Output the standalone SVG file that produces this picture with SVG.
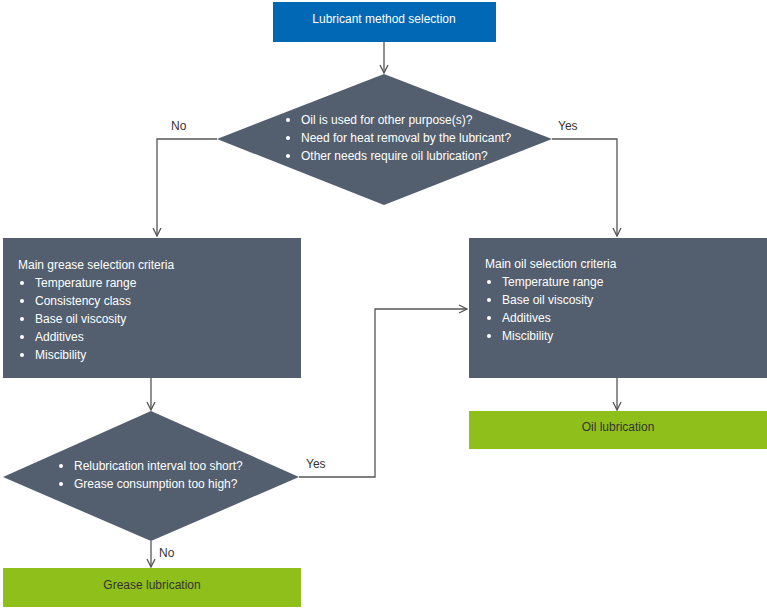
<svg xmlns="http://www.w3.org/2000/svg" width="767" height="608" viewBox="0 0 767 608">
<style>
.n{fill:#535f6e}
.g{fill:#8fbf1a}
.t{font-family:"Liberation Sans",Arial,sans-serif;font-size:12px;fill:#fff}
.d{font-family:"Liberation Sans",Arial,sans-serif;font-size:12px;fill:#333}
.c{fill:none;stroke:#555;stroke-width:1.3}
</style>
<defs><marker id="a" markerWidth="10" markerHeight="10" refX="9" refY="5" orient="auto" markerUnits="userSpaceOnUse"><path d="M1,1 L9,5 L1,9" fill="none" stroke="#555" stroke-width="1.3"/></marker></defs>
<g id="connectors">
<path class="c" d="M384,42 V73" marker-end="url(#a)"/>
<path class="c" d="M217,139 H157 V236" marker-end="url(#a)"/>
<path class="c" d="M552,139 H617 V236" marker-end="url(#a)"/>
<path class="c" d="M151,378 V410" marker-end="url(#a)"/>
<path class="c" d="M299,477 H375 V309 H467" marker-end="url(#a)"/>
<path class="c" d="M151,541 V567" marker-end="url(#a)"/>
<path class="c" d="M617,378 V410" marker-end="url(#a)"/>
<text class="d" x="171" y="130">No</text>
<text class="d" x="558" y="130">Yes</text>
<text class="d" x="306" y="468">Yes</text>
<text class="d" x="159" y="557">No</text>
</g>
<g id="start"><rect x="273" y="2" width="223" height="40" fill="#0068b4"/><text class="t" x="384" y="23" text-anchor="middle">Lubricant method selection</text></g>
<g id="decision1"><polygon class="n" points="384,74 552,139 384,205 217,139"/>
<text class="t" x="301" y="124">Oil is used for other purpose(s)?</text>
<text class="t" x="301" y="142">Need for heat removal by the lubricant?</text>
<text class="t" x="301" y="160">Other needs require oil lubrication?</text>
<circle cx="288" cy="120" r="2" fill="#fff"/><circle cx="288" cy="138" r="2" fill="#fff"/><circle cx="288" cy="156" r="2" fill="#fff"/></g>
<g id="grease-criteria"><rect class="n" x="3" y="238" width="298" height="140"/>
<text class="t" x="18" y="269">Main grease selection criteria</text>
<text class="t" x="35" y="287">Temperature range</text><text class="t" x="35" y="305">Consistency class</text><text class="t" x="35" y="323">Base oil viscosity</text><text class="t" x="35" y="341">Additives</text><text class="t" x="35" y="359">Miscibility</text>
<circle cx="22" cy="283" r="2" fill="#fff"/><circle cx="22" cy="301" r="2" fill="#fff"/><circle cx="22" cy="319" r="2" fill="#fff"/><circle cx="22" cy="337" r="2" fill="#fff"/><circle cx="22" cy="355" r="2" fill="#fff"/></g>
<g id="oil-criteria"><rect class="n" x="469" y="238" width="298" height="140"/>
<text class="t" x="485" y="268">Main oil selection criteria</text>
<text class="t" x="502" y="286">Temperature range</text><text class="t" x="502" y="304">Base oil viscosity</text><text class="t" x="502" y="322">Additives</text><text class="t" x="502" y="340">Miscibility</text>
<circle cx="489" cy="282" r="2" fill="#fff"/><circle cx="489" cy="300" r="2" fill="#fff"/><circle cx="489" cy="318" r="2" fill="#fff"/><circle cx="489" cy="336" r="2" fill="#fff"/></g>
<g id="decision2"><polygon class="n" points="151,411 299,477 151,541 3,477"/>
<text class="t" x="74" y="470">Relubrication interval too short?</text>
<text class="t" x="74" y="488">Grease consumption too high?</text>
<circle cx="61" cy="466" r="2" fill="#fff"/><circle cx="61" cy="484" r="2" fill="#fff"/></g>
<g id="grease-lub"><rect class="g" x="3" y="568" width="298" height="39"/><text class="d" x="152" y="589" text-anchor="middle">Grease lubrication</text></g>
<g id="oil-lub"><rect class="g" x="469" y="411" width="298" height="38"/><text class="d" x="618" y="431" text-anchor="middle">Oil lubrication</text></g>
</svg>
